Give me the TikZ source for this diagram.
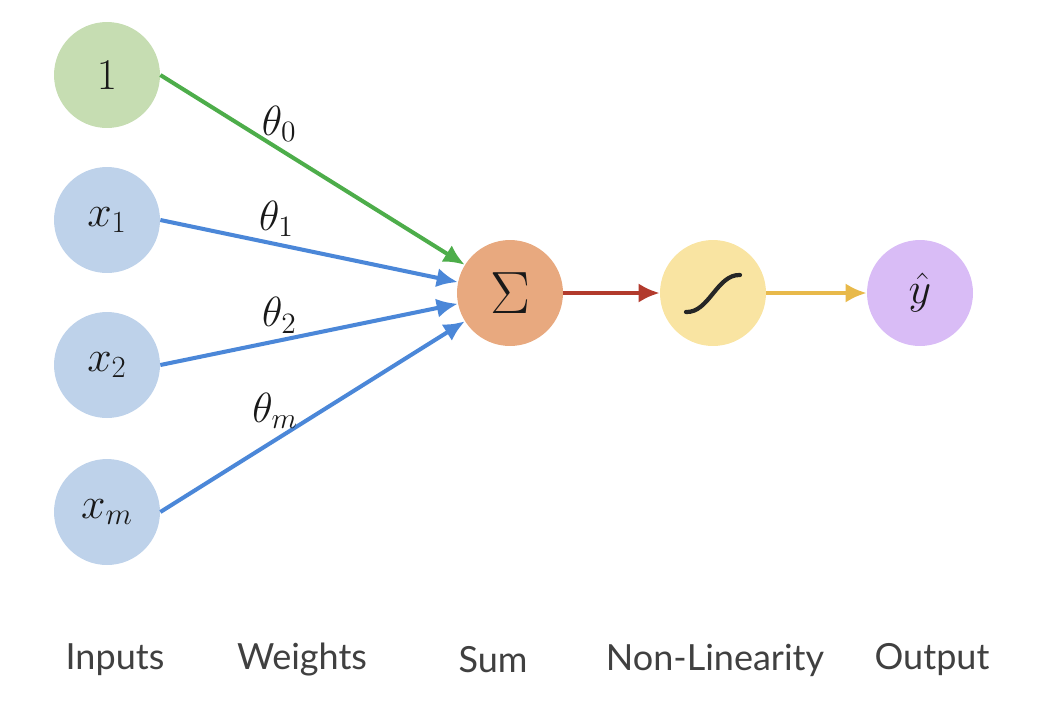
\documentclass[tikz,border=0pt]{standalone}
\usepackage{fix-cm}
\usepackage{fontspec}
\setsansfont{Lato}
\usepackage{tikz}
\usetikzlibrary{arrows.meta}

\definecolor{biasfill}{HTML}{C6DDB2}
\definecolor{inputfill}{HTML}{BED2EA}
\definecolor{sumfill}{HTML}{E8A97F}
\definecolor{actfill}{HTML}{F9E4A2}
\definecolor{outfill}{HTML}{D9BCF6}
\definecolor{biaswire}{HTML}{4DAD4A}
\definecolor{inputwire}{HTML}{4B87D8}
\definecolor{sumwire}{HTML}{B23A2C}
\definecolor{actwire}{HTML}{E8B94A}

\begin{document}
\begin{tikzpicture}[x=0.02cm,y=-0.02cm,>={Latex[length=12pt,width=11pt]},
  neuron/.style={circle,minimum size=2.12cm,inner sep=0pt,text=black!90,font=\fontsize{25}{29}\selectfont},
  wire/.style={->,line width=2.3pt},
  wlabel/.style={above,inner sep=3pt,text=black!90,font=\fontsize{24}{28}\selectfont},
  caption/.style={font=\sffamily\fontsize{20.5}{24}\selectfont,text=black!75}]
\path[use as bounding box] (0,0) rectangle (1044,704);

% inputs
\node[neuron,fill=biasfill]  (one) at (107,75)  {$1$};
\node[neuron,fill=inputfill] (x1)  at (107,220) {$x_1$};
\node[neuron,fill=inputfill] (x2)  at (107,365) {$x_2$};
\node[neuron,fill=inputfill] (xm)  at (107,512) {$x_m$};

% sum, non-linearity, output
\node[neuron,fill=sumfill,font=\fontsize{34}{38}\selectfont] (sum) at (510,293) {$\Sigma$};
\node[neuron,fill=actfill] (act) at (713,293) {};
\node[neuron,fill=outfill] (out) at (920,293) {$\hat{y}$};

% sigmoid glyph
\draw[line width=2.4pt,black!85,line cap=round]
  ([shift={(-27,19)}]act.center) .. controls ([shift={(-4,20)}]act.center)
  and ([shift={(4,-19)}]act.center) .. ([shift={(27,-18)}]act.center);

% weighted connections
\draw[wire,biaswire]  (one.east) -- (sum) node[wlabel,pos=0.39] {$\theta_0$};
\draw[wire,inputwire] (x1.east)  -- (sum) node[wlabel,pos=0.39] {$\theta_1$};
\draw[wire,inputwire] (x2.east)  -- (sum) node[wlabel,pos=0.40] {$\theta_2$};
\draw[wire,inputwire] (xm.east)  -- (sum) node[wlabel,pos=0.40,xshift=-4pt] {$\theta_m$};

% forward chain
\draw[wire,sumwire] (sum) -- (act);
\draw[wire,actwire] (act) -- (out);

% column captions
\node[caption] (capin)  at (115,660) {Inputs};
\node[caption] (capw)   at (302,660) {Weights};
\node[caption] (capsum) at (493,660) {Sum};
\node[caption] (capact) at (715,660) {Non-Linearity};
\node[caption] (capout) at (932,660) {Output};
\end{tikzpicture}
\end{document}
